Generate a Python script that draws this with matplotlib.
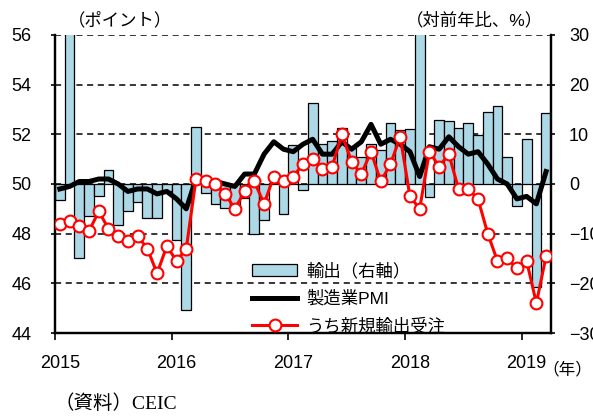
import numpy as np
import matplotlib
matplotlib.use('Agg')
import matplotlib.pyplot as plt

plt.rcParams['font.family'] = ['Liberation Sans', 'Noto Sans CJK JP']

# monthly data, Jan 2015 - Mar 2019
exports = [-3.3, 48.3, -15.0, -6.4, -2.5, 2.8, -8.3, -5.5, -3.7, -6.9, -6.8, -1.4,
           -11.2, -25.4, 11.5, -1.8, -4.1, -4.8, -4.4, -2.8, -10.0, -7.3, 0.1, -6.1,
           7.9, -1.3, 16.4, 8.0, 8.7, 11.3, 7.2, 5.5, 8.1, 6.9, 12.3, 10.9,
           11.1, 44.5, -2.7, 12.9, 12.6, 11.3, 12.2, 9.8, 14.5, 15.6, 5.4, -4.4,
           9.1, -20.7, 14.2]
pmi = [49.8, 49.9, 50.1, 50.1, 50.2, 50.2, 50.0, 49.7, 49.8, 49.8, 49.6, 49.7,
       49.4, 49.0, 50.2, 50.1, 50.1, 50.0, 49.9, 50.4, 50.4, 51.2, 51.7, 51.4,
       51.3, 51.6, 51.8, 51.2, 51.2, 51.7, 51.4, 51.7, 52.4, 51.6, 51.8, 51.6,
       51.3, 50.3, 51.5, 51.4, 51.9, 51.5, 51.2, 51.3, 50.8, 50.2, 50.0, 49.4,
       49.5, 49.2, 50.5]
export_orders = [48.4, 48.5, 48.3, 48.1, 48.9, 48.2, 47.9, 47.7, 47.9, 47.4, 46.4, 47.5,
                 46.9, 47.4, 50.2, 50.1, 50.0, 49.6, 49.0, 49.7, 50.1, 49.2, 50.3, 50.1,
                 50.3, 50.8, 51.0, 50.6, 50.7, 52.0, 50.9, 50.4, 51.3, 50.1, 50.8, 51.9,
                 49.5, 49.0, 51.3, 50.7, 51.2, 49.8, 49.8, 49.4, 48.0, 46.9, 47.0, 46.6,
                 46.9, 45.2, 47.1]
years = ['2015', '2016', '2017', '2018', '2019']

x = np.arange(len(pmi)) + 0.5

fig = plt.figure(figsize=(5.93, 4.16), dpi=100)
ax = fig.add_axes([0.0927, 0.1995, 0.8364, 0.7165])
ax2 = ax.twinx()
ax.set_zorder(ax2.get_zorder() + 1)
ax.patch.set_visible(False)

# grid (behind bars)
for v in np.arange(-20, 31, 10):
    ax2.axhline(v, color='black', lw=1.1, ls=(0, (4, 3)), zorder=0)

bars = ax2.bar(x, exports, width=1.0, color='#ADD8E6', edgecolor='black',
               linewidth=0.9, zorder=2, label='輸出（右軸）')
l1, = ax.plot(x, pmi, color='black', lw=3.6, label='製造業PMI', zorder=3)
l2, = ax.plot(x, export_orders, color='red', lw=2.2, marker='o', ms=8.5,
              mfc='white', mec='red', mew=1.5, label='うち新規輸出受注', zorder=4)

ax.set_xlim(0, len(pmi))
ax.set_ylim(44, 56)
ax2.set_ylim(-30, 30)
ax.set_yticks(np.arange(44, 57, 2))
ax2.set_yticks(np.arange(-30, 31, 10))

ax.set_xticks(np.arange(0, len(pmi), 12))
ax.set_xticklabels([])
ax.set_xticks(np.arange(0, len(pmi), 12) + 0.5, minor=True)
ax.set_xticklabels(years, minor=True)
ax.tick_params(axis='x', which='major', direction='out', length=5, width=1.2)
ax.tick_params(axis='x', which='minor', length=0, pad=16, labelsize=13)
ax.tick_params(axis='y', direction='out', length=3, width=1.2, pad=14, labelsize=13)
ax2.tick_params(axis='y', direction='out', length=3, width=1.2, pad=10, labelsize=13)

for a in (ax, ax2):
    a.spines['top'].set_visible(False)
    for s in ('left', 'right', 'bottom'):
        a.spines[s].set_linewidth(1.6)

fig.text(0.115, 0.952, '（ポイント）', fontsize=12.5, va='center')
fig.text(0.915, 0.952, '（対前年比、%）', fontsize=12.5, va='center', ha='right')
fig.text(0.999, 0.113, '（年）', fontsize=12, va='center', ha='right')
fig.text(0.092, 0.03, '（資料）CEIC', fontsize=14, va='center',
         family=['Liberation Serif', 'Noto Sans CJK JP'])

ax.legend(handles=[bars, l1, l2], loc='upper left', bbox_to_anchor=(0.38, 0.265),
          frameon=False, fontsize=12.5, borderpad=0, labelspacing=0.62,
          handlelength=2.6, handletextpad=0.5)

fig.savefig('out.png', dpi=100)
